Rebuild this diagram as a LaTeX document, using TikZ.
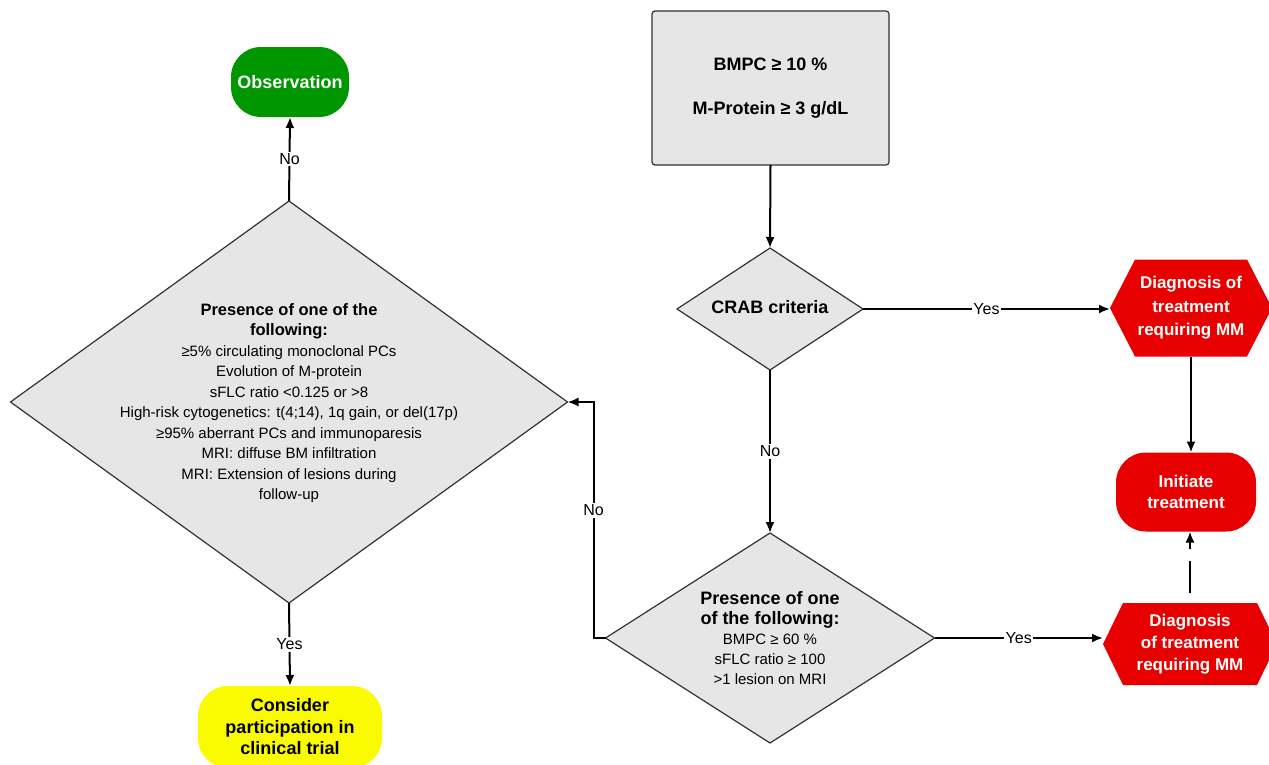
\documentclass[tikz,border=0pt]{standalone}
\usepackage{fontspec}
\setmainfont{Liberation Sans}
\usetikzlibrary{arrows.meta,shapes.geometric}
\definecolor{boxgray}{RGB}{230,230,230}
\definecolor{edgegray}{RGB}{50,50,50}
\definecolor{obsgreen}{RGB}{0,150,0}
\definecolor{mmred}{RGB}{232,0,0}
\definecolor{trialyellow}{RGB}{250,250,0}
\begin{document}
\begin{tikzpicture}[x=1pt,y=-1pt,
  conn/.style={line width=2pt, -{Latex[length=11pt,width=9pt]}},
  lab/.style={fill=white, inner sep=1.5pt, font=\fontsize{16}{18}\selectfont},
  gdia/.style={diamond, draw=edgegray, line width=1.2pt, fill=boxgray, inner sep=0pt, outer sep=0pt},
  txt/.style={align=center, inner sep=0pt},
  term/.style={rectangle, rounded corners=30pt, inner sep=0pt, outer sep=0pt, align=center,
     font=\bfseries\fontsize{18}{21.5}\selectfont},
  hexnode/.style={rectangle, inner sep=0pt, outer sep=0pt, text=white, align=center,
     path picture={\fill[mmred] ([xshift=#1]path picture bounding box.north west)
       -- ([xshift=-#1]path picture bounding box.north east)
       -- (path picture bounding box.east)
       -- ([xshift=-#1]path picture bounding box.south east)
       -- ([xshift=#1]path picture bounding box.south west)
       -- (path picture bounding box.west) -- cycle;}},
]
\useasboundingbox (0,0) rectangle (1269,764);
\clip (0,0) rectangle (1269,764);

% nodes
\node[term, fill=obsgreen, text=white, minimum width=118, minimum height=70] (obs) at (290,82) {Observation};

\node[gdia, minimum width=557, minimum height=402] (big) at (289,402) {};
\node[txt, font=\fontsize{15}{20.5}\selectfont] (bigtext) at (289,403) {%
{\bfseries\fontsize{16.5}{23}\selectfont Presence of one of the}\\
{\bfseries\fontsize{16.5}{23}\selectfont following:}\\
≥5\% circulating monoclonal PCs\\
Evolution of M-protein\\
sFLC ratio <0.125 or >8\\
High-risk cytogenetics: t(4;14), 1q gain, or del(17p)\\
≥95\% aberrant PCs and immunoparesis\\
MRI: diffuse BM infiltration\\
MRI: Extension of lesions during\\
follow-up};

\node[term, fill=trialyellow, text=black, minimum width=184, minimum height=82] (trial) at (290,727) {Consider\\participation in\\clinical trial};

\node[rectangle, draw=edgegray, line width=1.2pt, fill=boxgray, rounded corners=3pt, minimum width=237, minimum height=154, inner sep=0pt, outer sep=0pt, align=center, font=\bfseries\fontsize{18}{22}\selectfont] (box) at (770.5,88) {BMPC ≥ 10 \%\\[22pt]M-Protein ≥ 3 g/dL};

\node[gdia, minimum width=186, minimum height=122] (crab) at (770,309) {};
\node[txt, font=\bfseries\fontsize{18}{22}\selectfont] (crabtext) at (770,307) {CRAB criteria};

\node[gdia, minimum width=329, minimum height=210] (d2) at (770,638) {};
\node[txt, font=\fontsize{15}{20}\selectfont] (d2text) at (770,638) {%
{\bfseries\fontsize{18}{21}\selectfont Presence of one}\\
{\bfseries\fontsize{18}{21}\selectfont of the following:}\\
BMPC ≥ 60 \%\\
sFLC ratio ≥ 100\\
>1 lesion on MRI};

\node[hexnode=25pt, minimum width=162, minimum height=97, font=\bfseries\fontsize{17}{23.5}\selectfont] (h1) at (1191,308) {Diagnosis of\\treatment\\requiring MM};

\node[term, fill=mmred, text=white, minimum width=140, minimum height=79, font=\bfseries\fontsize{17}{21}\selectfont] (init) at (1186,492) {Initiate\\treatment};

\node[hexnode=20pt, minimum width=174, minimum height=82, font=\bfseries\fontsize{17}{22}\selectfont] (h2) at (1190,644) {Diagnosis\\of treatment\\requiring MM};

% connectors
\draw[conn] (box.south) -- (crab.north);
\draw[conn] (crab.east) -- node[lab]{Yes} (crab.east -| h1.west);
\draw[conn] (crab.south) -- node[lab]{No} (d2.north);
\draw[conn] (d2.east) -- node[lab]{Yes} (d2.east -| h2.west);
\draw[conn] (d2.west) -- ++(-12,0) |- node[lab,pos=0.27]{No} (big.east);
\draw[conn] (big.north) -- node[lab]{No} (obs.south);
\draw[conn] (big.south) -- node[lab]{Yes} (trial.north);
\draw[conn] (h1.south) -- (h1.south |- init.north);
\draw[conn, dash pattern=on 32pt off 12pt, dash phase=34pt] (h2.north) -- (h2.north |- init.south);
\end{tikzpicture}
\end{document}
